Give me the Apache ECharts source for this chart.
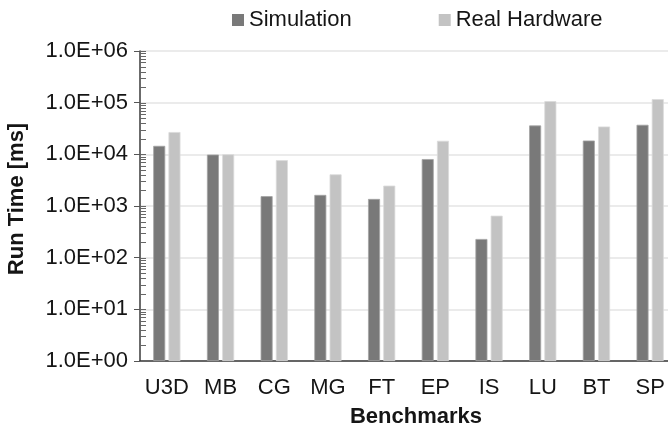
<!DOCTYPE html>
<html>
<head>
<meta charset="utf-8">
<script src="https://cdn.jsdelivr.net/npm/echarts@6/dist/echarts.min.js"></script>
<style>
  html, body { margin: 0; padding: 0; background: #fff; }
  #chart { width: 668px; height: 426px; }
</style>
</head>
<body>
<div id="chart"></div>
<script>
// Benchmark run times (ms), log scale
const benchmarks = ['U3D', 'MB', 'CG', 'MG', 'FT', 'EP', 'IS', 'LU', 'BT', 'SP'];
const simulation = [14600, 9900, 1550, 1640, 1370, 8100, 230, 36200, 18500, 37300];
const realHardware = [27000, 10000, 7700, 4100, 2480, 18300, 650, 107000, 34600, 117000];

// y-axis decades and their labels
const decades = [1, 10, 100, 1000, 10000, 100000, 1000000];
const yTickLabels = ['1.0E+00', '1.0E+01', '1.0E+02', '1.0E+03', '1.0E+04', '1.0E+05', '1.0E+06'];
// minor tick multipliers within each decade
const minorMultipliers = [2, 3, 4, 5, 6, 7, 8, 9];

const FONT = '"Liberation Sans", Arial, sans-serif';
const TEXT = '#151515';

// inner tick marks on the value axis (decade ticks + log minor ticks)
const innerTicks = [];
decades.forEach(function (d, i) {
  innerTicks.push([0, d]);
  if (i < decades.length - 1) {
    minorMultipliers.forEach(function (m) { innerTicks.push([0, m * d]); });
  }
});

const chart = echarts.init(document.getElementById('chart'));

chart.setOption({
  animation: false,
  backgroundColor: '#fff',
  textStyle: { fontFamily: FONT },
  legend: {
    data: ['Simulation', 'Real Hardware'],
    left: 227,
    top: 4,
    itemWidth: 12,
    itemHeight: 12,
    itemGap: 87,
    icon: 'rect',
    itemStyle: { borderWidth: 0 },
    textStyle: { fontFamily: FONT, fontSize: 22, color: TEXT }
  },
  grid: {
    left: 140,
    top: 51,
    width: 537,
    height: 310,
    containLabel: false,
    outerBoundsMode: 'none'
  },
  xAxis: {
    type: 'category',
    data: benchmarks,
    name: 'Benchmarks',
    nameLocation: 'middle',
    nameGap: 45,
    nameTextStyle: { fontFamily: FONT, fontSize: 22, fontWeight: 'bold', color: TEXT, padding: [0, 0, 0, 15] },
    axisLine: { lineStyle: { color: '#3a3a3a', width: 1.5 } },
    axisTick: { show: false },
    axisLabel: { fontFamily: FONT, fontSize: 22, color: TEXT, margin: 16, interval: 0 },
    splitLine: { show: false }
  },
  yAxis: {
    type: 'log',
    logBase: 10,
    min: 1,
    max: 1000000,
    name: 'Run Time [ms]',
    nameLocation: 'middle',
    nameRotate: 90,
    nameGap: 98,
    nameTextStyle: { fontFamily: FONT, fontSize: 22, fontWeight: 'bold', color: TEXT, padding: [0, 0, 14, 14] },
    axisLine: { show: true, lineStyle: { color: '#3a3a3a', width: 1.5 } },
    axisTick: { show: true, length: 6, lineStyle: { color: '#555', width: 1 } },
    axisLabel: {
      fontFamily: FONT,
      fontSize: 22,
      color: TEXT,
      margin: 12,
      formatter: function (v) {
        const i = decades.indexOf(Math.round(v));
        return i >= 0 ? yTickLabels[i] : '';
      }
    },
    splitLine: { show: true, lineStyle: { color: '#e4e4e4', width: 1.5 } }
  },
  series: [
    {
      name: 'Simulation',
      type: 'bar',
      data: simulation,
      barWidth: 12,
      barGap: '27%',
      itemStyle: { color: '#797979', borderColor: '#a3a3a3', borderWidth: 0.8 }
    },
    {
      name: 'Real Hardware',
      type: 'bar',
      data: realHardware,
      barWidth: 12,
      itemStyle: { color: '#c3c3c3', borderColor: '#dadada', borderWidth: 0.8 }
    },
    {
      name: 'innerTicks',
      type: 'custom',
      silent: true,
      clip: false,
      z: 5,
      data: innerTicks,
      encode: { x: 0, y: 1 },
      renderItem: function (params, api) {
        const p = api.coord([api.value(0), api.value(1)]);
        const half = api.size([1, 0])[0] / 2;
        const x = p[0] - half;
        const y = Math.round(p[1]) + 0.5;
        return {
          type: 'line',
          shape: { x1: x, y1: y, x2: x + 6, y2: y },
          style: { stroke: '#666', lineWidth: 1 }
        };
      }
    }
  ]
});
</script>
</body>
</html>
